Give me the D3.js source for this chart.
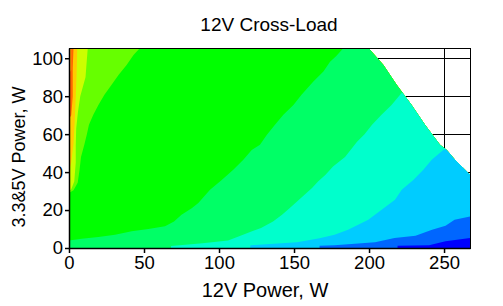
<!DOCTYPE html>
<html>
<head>
<meta charset="utf-8">
<script src="https://cdn.jsdelivr.net/npm/d3@7"></script>
<style>
  body { margin: 0; background: #fff; }
  text { font-family: "Liberation Sans", Arial, sans-serif; }
</style>
</head>
<body>
<script>
// axis extents and ticks
const xMax = 267.3, yMax = 105.4;
const xTicks = [0, 50, 100, 150, 200, 250];
const yTicks = [0, 20, 40, 60, 80, 100];

// colour of each level, from the top-left corner to the bottom-right
const levelColors = ["#ff9900", "#ff6600", "#ffcc00", "#ccff00", "#66ff00", "#00ff00",
                     "#00ff66", "#00ffcc", "#00ccff", "#0066ff", "#0000ff"];

// level boundaries: [12V W, 3.3&5V W]
const bRed = [[0, 92], [1.5, 94], [1.5, 105.4]];
const bOrange = [[0, 68], [1.5, 70], [2.5, 80], [2.5, 95], [3, 105.4]];
const bYellow = [[0, 40], [1.5, 45], [3, 55], [4, 70], [5, 90], [5.5, 105.4]];
const bLime = [[0, 30], [1.5, 31], [3.5, 35], [4.5, 45], [4.5, 54], [4.8, 63], [6, 72],
               [7.5, 80], [11, 90], [12.5, 105.4]];
const bGreen = [[0, 29], [3, 30.5], [5.8, 34.4], [7, 41], [8, 48], [10.2, 54.4], [11.8, 59.6],
                [13.3, 65], [16.2, 70.2], [19.6, 75.4], [23.6, 80.7], [28.4, 86], [33, 91.2],
                [38.4, 96.5], [43, 101.7], [47.3, 105.4]];
const bSpring = [[0, 4], [8.4, 4.9], [19.6, 5.8], [30.7, 7], [41.8, 8.8], [52.9, 10], [64, 11.4],
                 [70, 14], [75, 17.5], [81.8, 21], [86.2, 23.7], [94, 30.7], [101.8, 35.9],
                 [109.5, 41.2], [116.2, 46.5], [121.8, 51.7], [127.3, 54.4], [131.8, 59.6],
                 [137.3, 64.9], [142.9, 70.2], [149.6, 75.4], [155, 80.7], [162.9, 87.7],
                 [169.6, 93], [174, 98.2], [178, 101], [183, 105.4]];
const bAqua = [[68, 0], [68, 1], [89, 2.5], [106, 4], [113, 6], [122, 8.8], [128, 10.5], [136, 14],
               [142, 17.5], [147, 21], [152, 24.5], [157, 28], [162, 31.6], [166, 35], [171, 38.6],
               [176, 43], [184, 48], [189, 53], [192, 56], [197, 60], [202, 65], [208, 70],
               [215, 75.4], [220.7, 80.7], [224, 84]];
const bSky = [[120.7, 0], [121, 1.5], [152, 3], [167, 5.2], [177, 7], [186, 9.6], [199.5, 14.9],
              [208.4, 20.2], [217.3, 25.4], [221.8, 30.7], [229.5, 35.9], [236.2, 41.2],
              [241.8, 46.5], [249.5, 51.7], [254, 54]];
const bBlue = [[167, 0], [167, 1.2], [177, 1.5], [204, 3], [217, 5.3], [231, 6.5], [242, 9.6],
               [251, 11.7], [257, 14.9], [267.3, 16.6]];
const bDeep = [[219, 0], [219, 1.2], [240, 1.5], [251, 3.5], [267.3, 5.3]];

// edge of the tested load range (white beyond it)
const limitLine = [[199.6, 105.4], [209.6, 96.5], [218.4, 86], [228.4, 75.4], [237.3, 64.9],
                   [247.3, 54.4], [251.8, 51.7], [257.3, 46.5], [264, 41.2], [267.3, 38.6]];

const boundaries = [bRed, bOrange, bYellow, bLime, bGreen, bSpring, bAqua, bSky, bBlue, bDeep];

const width = 503, height = 306;
const margin = { left: 69, right: 33, top: 48, bottom: 58 };

const svg = d3.select("body").append("svg")
    .attr("width", width)
    .attr("height", height);

const x = d3.scaleLinear().domain([0, xMax]).range([margin.left, width - margin.right]);
const y = d3.scaleLinear().domain([0, yMax]).range([height - margin.bottom, margin.top]);

const line = d3.line().x(d => x(d[0])).y(d => y(d[1]));

// grid (only shows where the map is blank)
svg.append("g").selectAll("line.gx")
    .data(xTicks.slice(1))
    .enter().append("line")
    .attr("x1", d => x(d)).attr("x2", d => x(d))
    .attr("y1", y(0)).attr("y2", y(yMax))
    .attr("stroke", "#000").attr("shape-rendering", "crispEdges");
svg.append("g").selectAll("line.gy")
    .data(yTicks.slice(1))
    .enter().append("line")
    .attr("x1", x(0)).attr("x2", x(xMax))
    .attr("y1", d => y(d)).attr("y2", d => y(d))
    .attr("stroke", "#000").attr("shape-rendering", "crispEdges");

// clip to the tested region
const feasible = [[0, 0], [0, yMax]].concat(limitLine, [[xMax, 0]]);
svg.append("clipPath").attr("id", "feasible")
    .append("path").attr("d", line(feasible) + "Z");

const map = svg.append("g").attr("clip-path", "url(#feasible)");

map.append("rect")
    .attr("x", x(0)).attr("y", y(yMax))
    .attr("width", x(xMax) - x(0)).attr("height", y(0) - y(yMax))
    .attr("fill", levelColors[0]);

// each boundary fills everything below/right of it with the next level
boundaries.forEach((b, i) => {
    const first = b[0], last = b[b.length - 1];
    const poly = b.concat([[xMax, last[1]], [xMax, 0], [first[0], 0]]);
    map.append("path")
        .attr("d", line(poly) + "Z")
        .attr("fill", levelColors[i + 1]);
});

// frame
svg.append("rect")
    .attr("x", x(0)).attr("y", y(yMax))
    .attr("width", x(xMax) - x(0)).attr("height", y(0) - y(yMax))
    .attr("fill", "none").attr("stroke", "#000").attr("shape-rendering", "crispEdges");

// axes
const xAxis = svg.append("g")
    .attr("transform", "translate(0," + y(0) + ")")
    .call(d3.axisBottom(x).tickValues(xTicks).tickSize(5).tickSizeOuter(0).tickPadding(3));
const yAxis = svg.append("g")
    .attr("transform", "translate(" + x(0) + ",0)")
    .call(d3.axisLeft(y).tickValues(yTicks).tickSize(4).tickSizeOuter(0).tickPadding(2));

[xAxis, yAxis].forEach(g => {
    g.selectAll("text").attr("fill", "#000").style("font-size", "18.5px")
        .style("font-family", "'Liberation Sans', Arial, sans-serif");
    g.selectAll("line, path").attr("stroke", "#000").attr("stroke-width", 1.5);
});

// titles
svg.append("text")
    .attr("x", 269).attr("y", 31)
    .attr("text-anchor", "middle")
    .style("font-size", "19px")
    .text("12V Cross-Load");

svg.append("text")
    .attr("x", 265).attr("y", 297)
    .attr("text-anchor", "middle")
    .style("font-size", "20px")
    .text("12V Power, W");

svg.append("text")
    .attr("transform", "translate(25,157) rotate(-90)")
    .attr("text-anchor", "middle")
    .style("font-size", "18px")
    .text("3.3&5V Power, W");
</script>
</body>
</html>
